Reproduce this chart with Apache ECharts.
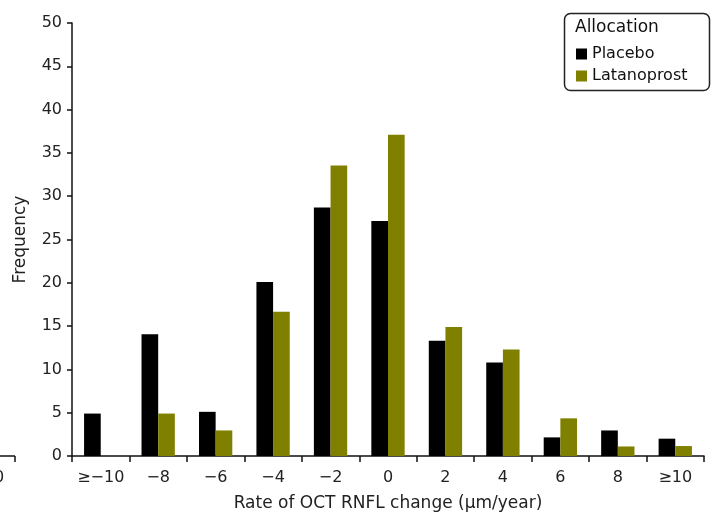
<!DOCTYPE html>
<html><head><meta charset="utf-8">
<script src="https://cdn.jsdelivr.net/npm/echarts@6/dist/echarts.min.js"></script>
<style>html,body{margin:0;padding:0;background:#fff}#c{width:720px;height:518px}</style>
</head><body><div id="c"></div>
<script>
const categories = ['≥−10', '−8', '−6', '−4', '−2', '0', '2', '4', '6', '8', '≥10'];
const placebo = [4.9, 14.05, 5.1, 20.1, 28.7, 27.15, 13.3, 10.8, 2.15, 2.95, 2.0];
const latanoprost = [0, 4.9, 2.95, 16.65, 33.55, 37.1, 14.9, 12.3, 4.35, 1.1, 1.15];
const yTicks = [0, 50, 5];

const font = 'DejaVu Sans';
const chart = echarts.init(document.getElementById('c'));
chart.setOption({
  animation: false,
  textStyle: { fontFamily: font },
  grid: { left: 72, right: 16, top: 23, bottom: 62 },
  xAxis: {
    type: 'category', data: categories,
    name: 'Rate of OCT RNFL change (μm/year)', nameLocation: 'middle', nameGap: 39,
    nameTextStyle: { fontSize: 17, color: '#222', fontFamily: font },
    axisLine: { lineStyle: { color: '#111', width: 1.5 } },
    axisTick: { show: true, length: 6, lineStyle: { color: '#111', width: 1.5 } },
    axisLabel: { interval: 0, fontSize: 16, color: '#222', margin: 14, fontFamily: font }
  },
  yAxis: {
    type: 'value', min: yTicks[0], max: yTicks[1], interval: yTicks[2],
    name: 'Frequency', nameLocation: 'middle', nameGap: 43, nameRotate: 90,
    nameTextStyle: { fontSize: 17, color: '#222', fontFamily: font },
    axisLine: { show: true, lineStyle: { color: '#111', width: 1.5 } },
    axisTick: { show: true, length: 5, lineStyle: { color: '#111', width: 1.5 } },
    axisLabel: { fontSize: 16, color: '#222', margin: 10, fontFamily: font },
    splitLine: { show: false }
  },
  legend: {
    orient: 'vertical', left: 571, top: 41, itemWidth: 11, itemHeight: 11, itemGap: 6,
    icon: 'rect', textStyle: { fontSize: 16, color: '#111', fontFamily: font },
    data: ['Placebo', 'Latanoprost']
  },
  graphic: [
    { type: 'rect', left: 562, top: 11, shape: { width: 145, height: 77, r: 6 },
      style: { fill: 'none', stroke: '#222', lineWidth: 1.5 } },
    { type: 'text', left: 575, top: 19, style: { text: 'Allocation', font: '17px "DejaVu Sans"', fill: '#111' } },
    { type: 'line', shape: { x1: 0, y1: 456, x2: 15, y2: 456 }, style: { stroke: '#111', lineWidth: 1.5 } },
    { type: 'line', shape: { x1: 15, y1: 456, x2: 15, y2: 462 }, style: { stroke: '#111', lineWidth: 1.5 } },
    { type: 'text', left: -6, top: 470, style: { text: '0', font: '16px "DejaVu Sans"', fill: '#222' } }
  ],
  series: [
    { name: 'Placebo', type: 'bar', data: placebo, barGap: '0%', barCategoryGap: '42%',
      itemStyle: { color: '#000000' } },
    { name: 'Latanoprost', type: 'bar', data: latanoprost,
      itemStyle: { color: '#808000' } }
  ]
});
</script></body></html>
